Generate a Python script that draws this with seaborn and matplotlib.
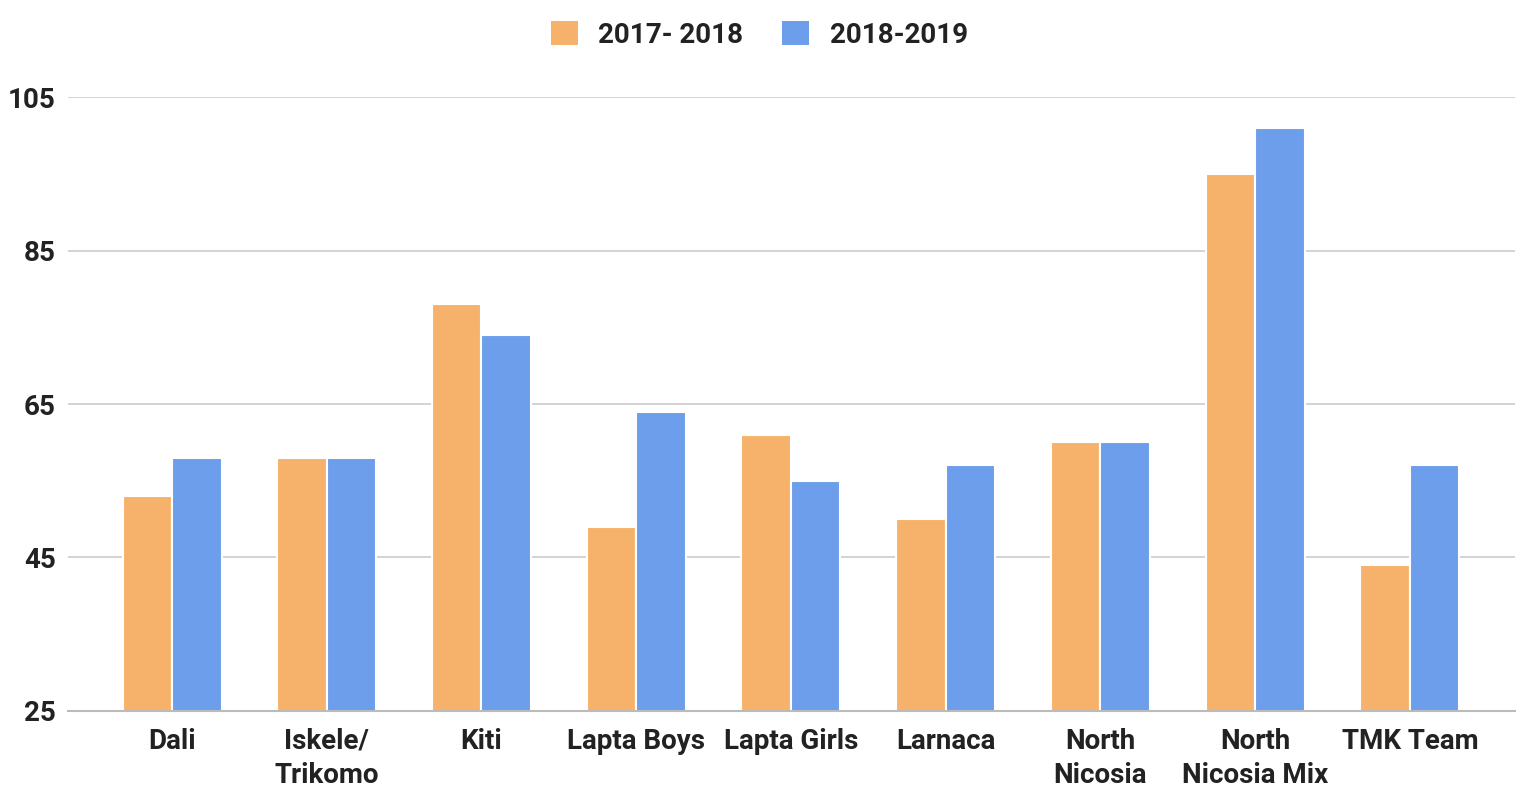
import matplotlib
matplotlib.use("Agg")
import matplotlib.pyplot as plt
import matplotlib.patches as mpatches
import seaborn as sns
import pandas as pd

categories = ["Dali", "Iskele/\nTrikomo", "Kiti", "Lapta Boys", "Lapta Girls",
              "Larnaca", "North\nNicosia", "North\nNicosia Mix", "TMK Team"]
series_names = ["2017- 2018", "2018-2019"]
values_2017 = [53, 58, 78, 49, 61, 50, 60, 95, 44]
values_2018 = [58, 58, 74, 64, 55, 57, 60, 101, 57]
y_ticks = [25, 45, 65, 85, 105]
colors = ["#F6B26B", "#6D9EEB"]

df = pd.DataFrame({
    "category": categories * 2,
    "series": [series_names[0]] * len(categories) + [series_names[1]] * len(categories),
    "value": values_2017 + values_2018,
})

sns.set_theme(style="white")
plt.rcParams["font.family"] = ["Roboto", "DejaVu Sans"]

fig = plt.figure(figsize=(15.19, 7.87), dpi=100)
ax = fig.add_axes([0.0448, 0.0966, 0.9526, 0.7801])

sns.barplot(data=df, x="category", y="value", hue="series", order=categories,
            hue_order=series_names, palette=colors, width=0.64, ax=ax,
            edgecolor="white", linewidth=1.5, saturation=1, legend=False)

FS = 20
ax.set_ylim(25, 105)
ax.set_xlim(-0.672, 8.68)
ax.set_yticks(y_ticks)
ax.set_yticklabels([str(t) for t in y_ticks], fontsize=FS, fontweight="bold", color="#222222")
ax.set_xticks(range(len(categories)))
ax.set_xticklabels(categories, fontsize=FS, fontweight="bold", color="#222222", linespacing=1.35)
ax.tick_params(axis="both", length=0)
ax.tick_params(axis="x", pad=12)
ax.tick_params(axis="y", pad=9)
ax.set_xlabel("")
ax.set_ylabel("")
ax.grid(axis="y", color="#CCCCCC", linewidth=1.2)
ax.set_axisbelow(True)
for s in ["top", "right", "left"]:
    ax.spines[s].set_visible(False)
ax.spines["bottom"].set_color("#BBBBBB")
ax.spines["bottom"].set_linewidth(1.5)

handles = [mpatches.Patch(facecolor=c, edgecolor="none", label=n) for c, n in zip(colors, series_names)]
leg = fig.legend(handles=handles, loc="upper center", bbox_to_anchor=(0.5, 1.005), ncol=2,
                 frameon=False, prop={"family": "Roboto", "weight": "bold", "size": FS},
                 handlelength=0.95, handleheight=0.95, handletextpad=0.75, columnspacing=1.4)
for t in leg.get_texts():
    t.set_color("#222222")

fig.savefig("out.png", dpi=100)
